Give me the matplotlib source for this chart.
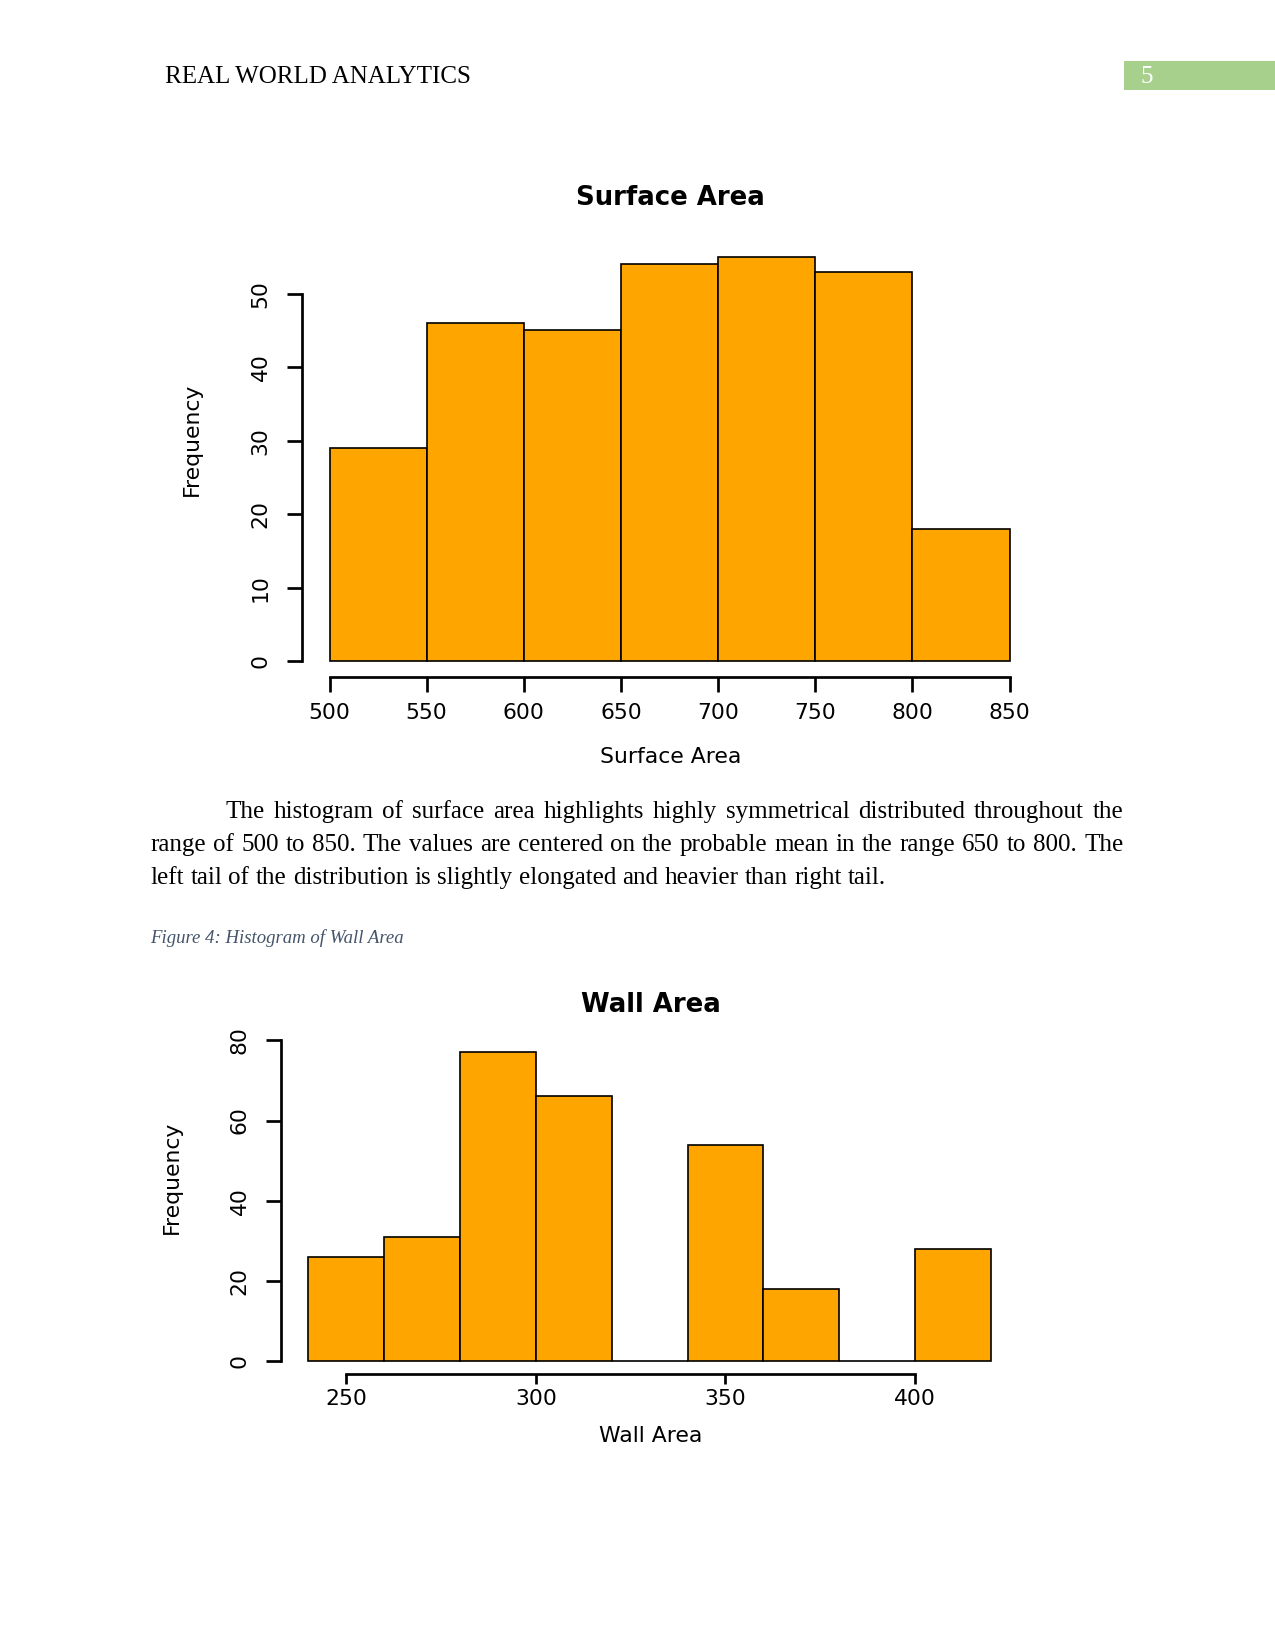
import numpy as np
import matplotlib
matplotlib.use("Agg")
import matplotlib.pyplot as plt
from matplotlib.patches import Rectangle

# counts
surface_edges = [500, 550, 600, 650, 700, 750, 800, 850]
surface_counts = [29, 46, 45, 54, 55, 53, 18]
surface_xticks = [500, 550, 600, 650, 700, 750, 800, 850]
surface_yticks = [0, 10, 20, 30, 40, 50]

wall_edges = [240, 260, 280, 300, 320, 340, 360, 380, 400, 420]
wall_counts = [26, 31, 77, 66, 0, 54, 18, 0, 28]
wall_xticks = [250, 300, 350, 400]
wall_yticks = [0, 20, 40, 60, 80]

header = "REAL WORLD ANALYTICS"
page_no = "5"
para_lines = [
    "The histogram of surface area highlights highly symmetrical distributed throughout the",
    "range of 500 to 850. The values are centered on the probable mean in the range 650 to 800. The",
    "left tail of the distribution is slightly elongated and heavier than right tail.",
]
caption = "Figure 4: Histogram of Wall Area"

W, H = 1275, 1651
DPI = 150
fig = plt.figure(figsize=(W / DPI, H / DPI), dpi=DPI)
fig.patch.set_facecolor("white")

SERIF = "Liberation Serif"
SANS = "DejaVu Sans"


def fx(px):
    return px / W


def fy(py):
    return 1 - py / H


# R style hist: detached axes, 4% padding
def r_hist(box, edges, counts, xticks, yticks, xlen=7.2, xpad=5):
    left, top, right, bottom = box
    ax = fig.add_axes([fx(left), fy(bottom), (right - left) / W, (bottom - top) / H])
    edges = np.array(edges)
    ax.bar(edges[:-1], counts, width=np.diff(edges), align="edge",
           color="#FFA500", edgecolor="black", linewidth=0.8)
    span = edges[-1] - edges[0]
    ax.set_xlim(edges[0] - 0.04 * span, edges[-1] + 0.04 * span)
    ax.set_ylim(-0.04 * max(counts), 1.04 * max(counts))
    for s in ["top", "right"]:
        ax.spines[s].set_visible(False)
    ax.spines["left"].set_bounds(yticks[0], yticks[-1])
    ax.spines["bottom"].set_bounds(xticks[0], xticks[-1])
    ax.spines["left"].set_linewidth(1.3)
    ax.spines["bottom"].set_linewidth(1.3)
    ax.set_xticks(xticks)
    ax.set_yticks(yticks)
    ax.tick_params(direction="out", length=7.2, width=1.3, labelsize=10.5)
    ax.tick_params(axis="x", pad=xpad, length=xlen)
    ax.tick_params(axis="y", pad=8, labelrotation=90)
    for lbl in ax.get_yticklabels():
        lbl.set_va("center")
        lbl.set_family(SANS)
    for lbl in ax.get_xticklabels():
        lbl.set_family(SANS)
    ax.patch.set_alpha(0)
    return ax


# header
fig.text(fx(165.3), fy(83), header, family=SERIF, fontsize=12, va="baseline")
fig.patches.append(Rectangle((fx(1124.4), fy(89.5)), (1275 - 1124.4) / W, (89.5 - 61) / H,
                             transform=fig.transFigure, facecolor="#A8D08D",
                             edgecolor="none"))
fig.text(fx(1146.5), fy(83), page_no, family=SERIF, fontsize=12, color="white",
         ha="center", va="baseline")

# surface area histogram
r_hist((302.3, 240.8, 1036.8, 677.4), surface_edges, surface_counts,
       surface_xticks, surface_yticks)
fig.text(fx(670.6), fy(198), "Surface Area", family=SANS, fontsize=12.5,
         weight="bold", ha="center", va="center")
fig.text(fx(670.6), fy(757), "Surface Area", family=SANS, fontsize=10.5,
         ha="center", va="center")
fig.text(fx(191.6), fy(439), "Frequency", family=SANS, fontsize=10.5,
         rotation=90, ha="center", va="center")

# paragraph, justified by hand
renderer = fig.canvas.get_renderer()


def place_line(text, x0, x1, y, justify=True):
    words = text.split()
    arts = [fig.text(0, fy(y), w, family=SERIF, fontsize=12, va="baseline")
            for w in words]
    widths = [a.get_window_extent(renderer).width for a in arts]
    if justify:
        gap = (x1 - x0 - sum(widths)) / (len(words) - 1)
    else:
        gap = 6.3
    x = x0
    for a, wd in zip(arts, widths):
        a.set_x(fx(x))
        x += wd + gap


place_line(para_lines[0], 225.3, 1123.3, 818)
place_line(para_lines[1], 150.5, 1123.3, 851)
place_line(para_lines[2], 150.5, 1123.3, 884, justify=False)

fig.text(fx(150.5), fy(943), caption, family=SERIF, fontsize=9, style="italic",
         color="#44546A", va="baseline")

# wall area histogram
r_hist((281.2, 1039.9, 1018.0, 1373.7), wall_edges, wall_counts,
       wall_xticks, wall_yticks, xlen=5, xpad=2.5)
fig.text(fx(650.6), fy(1005.5), "Wall Area", family=SANS, fontsize=12.5,
         weight="bold", ha="center", va="center")
fig.text(fx(650.6), fy(1436), "Wall Area", family=SANS, fontsize=10.5,
         ha="center", va="center")
fig.text(fx(171.6), fy(1177), "Frequency", family=SANS, fontsize=10.5,
         rotation=90, ha="center", va="center")

fig.savefig("out.png", dpi=DPI)
